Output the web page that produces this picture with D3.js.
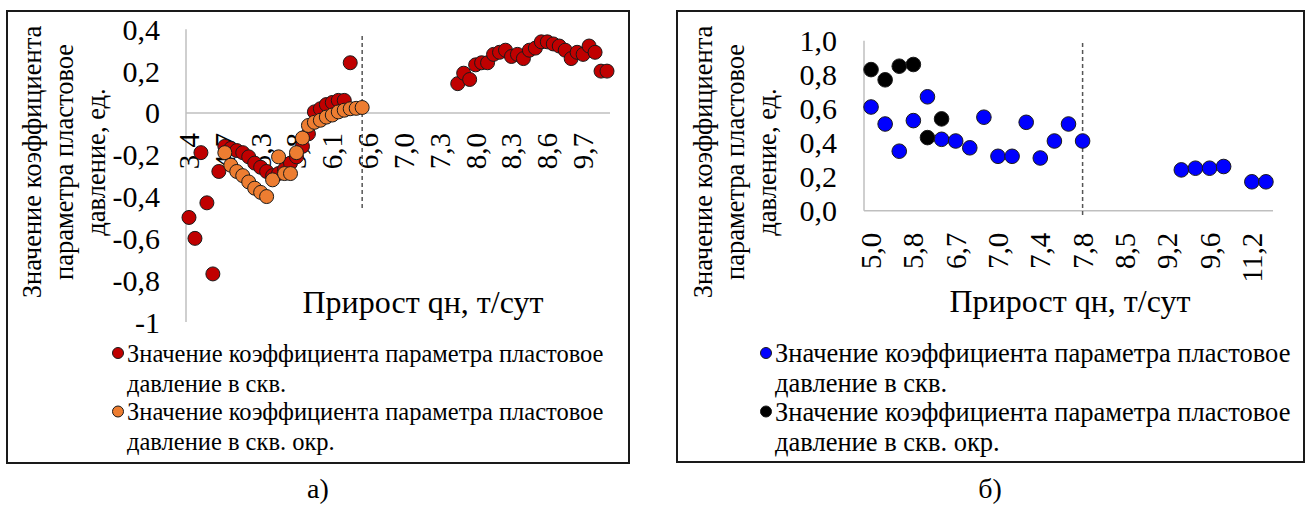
<!DOCTYPE html>
<html><head><meta charset="utf-8">
<script src="https://cdn.jsdelivr.net/npm/d3@7"></script>
<style>body{margin:0;background:#fff} svg text{font-family:"Liberation Serif","Times New Roman",Times,"DejaVu Serif",serif;}</style>
</head><body>
<script>
// ---------- data: left chart (а) ----------
const leftCategories = [
  "3,4","3,6","3,8","4,0","4,2","4,5","4,7",
  "4,8","4,9","5,0","5,1","5,2","5,3",
  "5,4","5,5","5,5","5,6","5,7","5,8",
  "5,8","5,9","5,9","6,0","6,0","6,1",
  "6,2","6,3","6,4","6,4","6,5","6,6",
  "6,7","6,7","6,8","6,9","6,9","7,0",
  "7,0","7,1","7,1","7,2","7,2","7,3",
  "7,4","7,5","7,6","7,7","7,9","8,0",
  "8,0","8,1","8,1","8,2","8,2","8,3",
  "8,3","8,4","8,4","8,5","8,5","8,6",
  "8,7","8,8","9,0","9,2","9,5","9,7",
  "9,8","9,9","10,1","10,3"
];
const leftWell = [
  -0.50,-0.60,-0.19,-0.43,-0.77,-0.28,-0.16,-0.17,-0.18,-0.19,-0.21,-0.24,-0.26,-0.28,
  -0.30,-0.29,-0.27,-0.24,-0.21,-0.16,-0.10,0.005,0.02,0.04,0.05,0.06,0.06,0.24,
  null,null,null,null,null,null,null,null,null,null,null,null,null,null,null,null,null,
  0.14,0.19,0.16,0.23,0.24,0.24,0.28,0.29,0.30,0.27,0.28,0.26,0.30,0.31,0.34,0.34,
  0.33,0.32,0.30,0.26,0.29,0.28,0.32,0.29,0.20,0.20
];
const leftNeighbor = [
  null,null,null,null,null,null,
  -0.19,-0.25,-0.28,-0.30,-0.33,-0.36,-0.38,-0.40,-0.32,-0.21,-0.29,-0.29,-0.19,-0.12,
  -0.06,-0.045,-0.035,-0.02,-0.01,0.005,0.013,0.02,0.022,0.026,
  null,null,null,null,null,null,null,null,null,null,null,null,null,null,null,null,null,
  null,null,null,null,null,null,null,null,null,null,null,null,null,null,null,null,null,
  null,null,null,null,null,null,null
];
const leftYTicks = [0.4,0.2,0,-0.2,-0.4,-0.6,-0.8,-1];
const leftThreshold = 29;

// ---------- data: right chart (б) ----------
const rightCategories = [
  "5,0","5,3","5,5","5,8","6,2","6,5","6,7","6,8","6,9","7,0",
  "7,1","7,3","7,4","7,5","7,7","7,8","8,0","8,3","8,5","8,7",
  "9,0","9,2","9,3","9,5","9,6","10,0","10,6","11,2","11,5"
];
const rightWell = [
  0.61,0.51,0.35,0.53,0.67,0.42,0.41,0.37,0.55,0.32,0.32,0.52,0.31,0.41,0.51,0.41,
  null,null,null,null,null,null,
  0.24,0.25,0.25,0.26,null,0.17,0.17
];
const rightNeighbor = [
  0.83,0.77,0.85,0.86,0.43,0.54,
  null,null,null,null,null,null,null,null,null,null,null,null,null,null,null,null,
  null,null,null,null,null,null,null
];
const rightYTicks = [0,0.2,0.4,0.6,0.8,1.0];
const rightThreshold = 15;

const legendLines = [
  ["Значение коэффициента параметра пластовое","давление в скв."],
  ["Значение коэффициента параметра пластовое","давление в скв. окр."]
];
const yTitle = ["Значение коэффициента","параметра пластовое","давление, ед."];
const xTitle = "Прирост qн, т/сут";

// ---------- drawing ----------
const FONT = '"Liberation Serif","Times New Roman",Times,"DejaVu Serif",serif';
const svg = d3.select("body").append("svg").attr("width",1313).attr("height",507)
  .attr("font-family",FONT);
svg.append("rect").attr("width",1313).attr("height",507).attr("fill","#fff");

function panel(o){
  const g = svg.append("g");
  g.append("rect").attr("x",o.box[0]).attr("y",o.box[1]).attr("width",o.box[2]).attr("height",o.box[3])
    .attr("fill","none").attr("stroke","#1a1a1a").attr("stroke-width",2);
  const x = d3.scaleBand().domain(d3.range(o.cats.length)).range(o.xr).padding(0);
  const y = d3.scaleLinear().domain(o.yd).range(o.yr);
  const cx = i => x(i) + x.bandwidth()/2;
  g.selectAll(".yt").data(o.yticks).join("text")
    .attr("x",o.ytx).attr("y",d=>y(d)).attr("text-anchor","end").attr("dominant-baseline","central")
    .attr("font-size",o.tickSize).attr("fill","#000").text(o.yfmt);
  g.append("line").attr("x1",o.xr[0]).attr("x2",o.xr[0]).attr("y1",o.yr[1]).attr("y2",o.yr[0])
    .attr("stroke","#bfbfbf").attr("stroke-width",1.5);
  const y0 = y(o.xAxisAt);
  g.append("line").attr("x1",o.xr[0]).attr("x2",o.xr[1]).attr("y1",y0).attr("y2",y0)
    .attr("stroke","#bfbfbf").attr("stroke-width",1.5);
  const shown = d3.range(0,o.cats.length,o.step);
  g.selectAll(".xt").data(shown).join("text")
    .attr("transform",i=>`translate(${cx(i)},${y0+o.xlabGap}) rotate(-90)`)
    .attr("text-anchor","end").attr("dominant-baseline","central")
    .attr("font-size",o.xTickSize).attr("fill","#000").text(i=>o.cats[i]);
  g.append("line").attr("x1",cx(o.thr)).attr("x2",cx(o.thr)).attr("y1",o.dash[0]).attr("y2",o.dash[1])
    .attr("stroke","#555").attr("stroke-width",1.5).attr("stroke-dasharray","4,3");
  o.series.forEach(s=>{
    const pts = s.values.map((v,i)=>({v,i})).filter(d=>d.v!=null);
    g.selectAll(null).data(pts).join("circle")
      .attr("cx",d=>cx(d.i)).attr("cy",d=>y(d.v)).attr("r",o.r)
      .attr("fill",s.color).attr("stroke","#1a1a1a").attr("stroke-width",1);
  });
  const yt = g.append("text").attr("transform",`translate(${o.ytitle[0]},${o.ytitle[1]}) rotate(-90)`)
    .attr("text-anchor","middle").attr("font-size",o.titleSize).attr("fill","#000");
  yTitle.forEach((t,k)=>yt.append("tspan").attr("x",0).attr("dy",k?o.ytLine:0).text(t));
  g.append("text").attr("x",o.xtitle[0]).attr("y",o.xtitle[1]).attr("text-anchor","middle")
    .attr("font-size",o.xTitleSize).attr("fill","#000").text(xTitle);
  o.series.forEach((s,k)=>{
    const ly = o.leg[1] + k*58.5;
    g.append("circle").attr("cx",o.leg[0]).attr("cy",ly).attr("r",5.5)
      .attr("fill",s.color).attr("stroke","#1a1a1a").attr("stroke-width",1);
    legendLines[k].forEach((t,j)=>g.append("text").attr("x",o.leg[0]+9).attr("y",ly+j*30)
      .attr("dominant-baseline","central").attr("font-size",o.legSize).attr("fill","#000").text(t));
  });
  svg.append("text").attr("x",o.cap[0]).attr("y",o.cap[1]).attr("text-anchor","middle")
    .attr("font-size",28).attr("fill","#000").text(o.capText);
}

const fmtL = d => Number.isInteger(d) ? String(d) : d3.format(".1f")(d).replace(".",",").replace("\u2212","-");
const fmtR = d => d3.format(".1f")(d).replace(".",",").replace("\u2212","-");

panel({
  box:[7,11,622,452], cats:leftCategories, xr:[186,610], yd:[-1,0.4], yr:[322,29.3],
  yticks:leftYTicks, yfmt:fmtL, ytx:160, tickSize:30, xTickSize:29, xAxisAt:0, step:6, xlabGap:20,
  thr:leftThreshold, dash:[36,210], r:7,
  series:[{values:leftWell,color:"#c00000"},{values:leftNeighbor,color:"#ed7d31"}],
  ytitle:[41,162], ytLine:32, titleSize:26.5, xtitle:[423,313], xTitleSize:32,
  leg:[118,353], legSize:24.5, cap:[318,498], capText:"а)"
});
panel({
  box:[677,11,627,451], cats:rightCategories, xr:[864,1273], yd:[0,1], yr:[210.7,40.7],
  yticks:rightYTicks, yfmt:fmtR, ytx:837, tickSize:30, xTickSize:29, xAxisAt:0, step:3, xlabGap:22,
  thr:rightThreshold, dash:[43,217], r:7.3,
  series:[{values:rightWell,color:"#0000ff"},{values:rightNeighbor,color:"#000000"}],
  ytitle:[712,162], ytLine:32, titleSize:26.5, xtitle:[1070,312], xTitleSize:32,
  leg:[766,353], legSize:26.5, cap:[990,498], capText:"б)"
});
</script>
</body></html>
